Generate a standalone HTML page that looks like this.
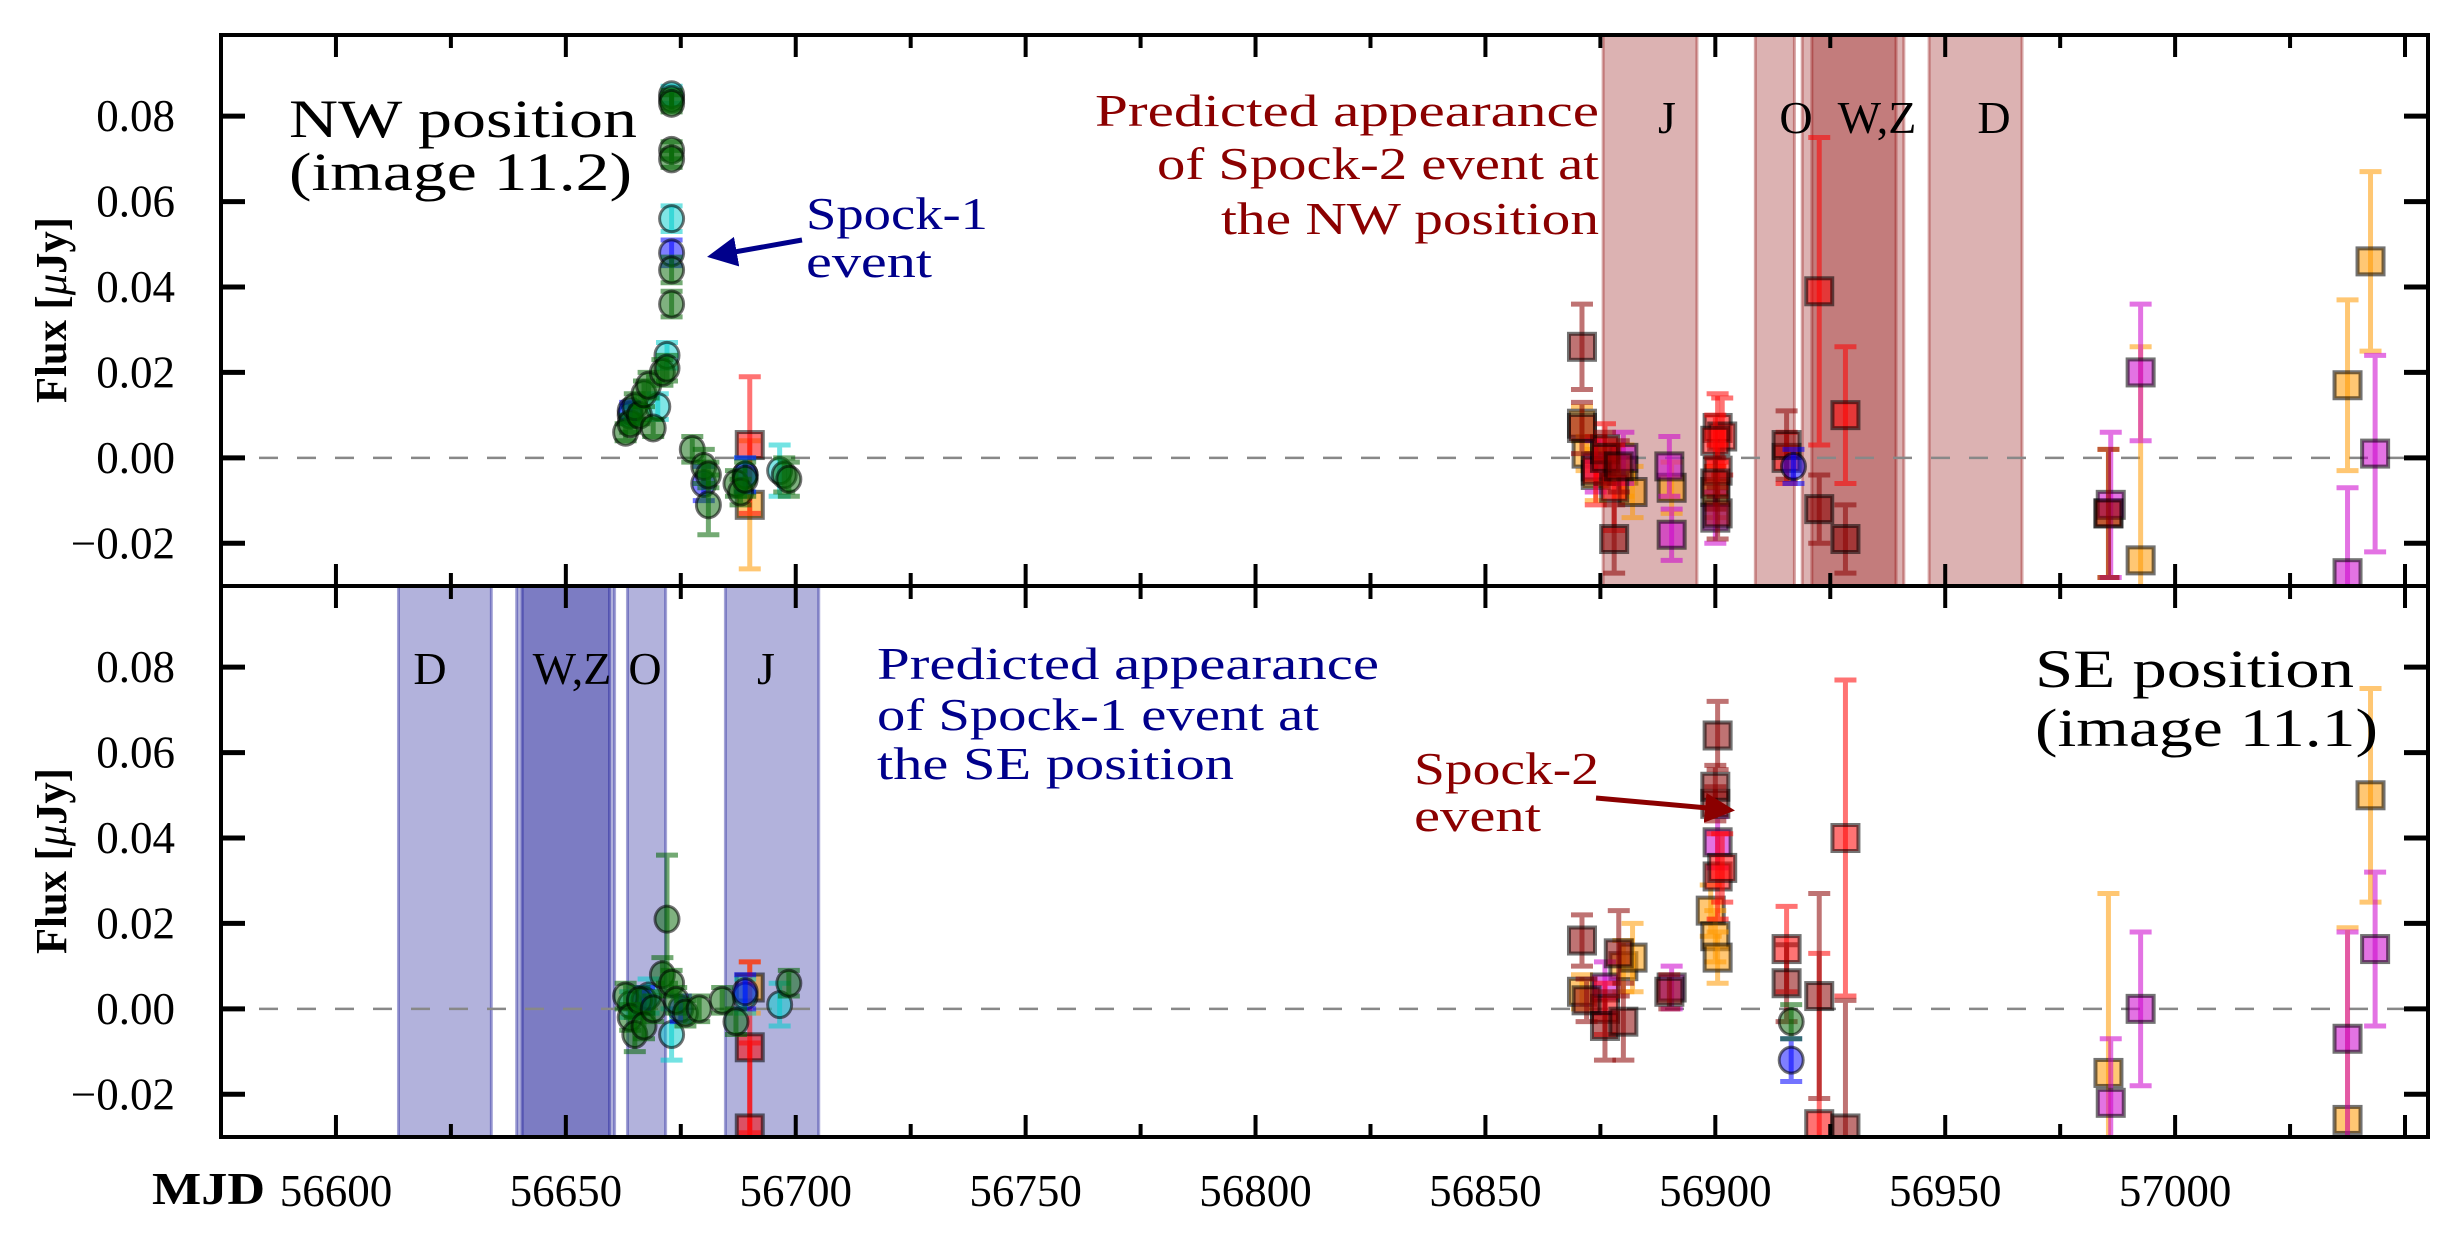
<!DOCTYPE html>
<html><head><meta charset="utf-8">
<style>
html,body{margin:0;padding:0;background:#fff;}
svg{display:block;font-family:"Liberation Serif",serif;}
</style></head>
<body>
<svg id="chart" width="2452" height="1252" viewBox="0 0 2452 1252" xmlns="http://www.w3.org/2000/svg">
<defs>
<clipPath id="clipTop"><rect x="221" y="35" width="2207" height="551"/></clipPath>
<clipPath id="clipBot"><rect x="221" y="586" width="2207" height="551"/></clipPath>
<marker id="arrBlue" markerWidth="6" markerHeight="6" refX="5" refY="3" orient="auto"><path d="M0,0 L6,3 L0,6 z" fill="#00008b"/></marker>
<marker id="arrRed" markerWidth="6" markerHeight="6" refX="5" refY="3" orient="auto"><path d="M0,0 L6,3 L0,6 z" fill="#8b0000"/></marker>
</defs>
<g id="topBands" clip-path="url(#clipTop)"></g>
<g id="botBands" clip-path="url(#clipBot)"></g>
<g id="zeroLines"></g>
<g id="topData" clip-path="url(#clipTop)"></g>
<g id="botData" clip-path="url(#clipBot)"></g>
<g id="axes"></g>
<g id="labels">
<text x="289" y="137" font-size="54" textLength="348" lengthAdjust="spacingAndGlyphs" fill="#000">NW position</text>
<text x="289" y="190" font-size="54" textLength="343" lengthAdjust="spacingAndGlyphs" fill="#000">(image 11.2)</text>
<text x="806" y="229" font-size="46" textLength="182" lengthAdjust="spacingAndGlyphs" fill="#00008b">Spock-1</text>
<text x="806" y="277" font-size="46" textLength="126" lengthAdjust="spacingAndGlyphs" fill="#00008b">event</text>
<line x1="802" y1="240" x2="712" y2="256" stroke="#00008b" stroke-width="5" marker-end="url(#arrBlue)"/>
<g fill="#8b0000" font-size="46">
<text x="1095" y="126" textLength="504" lengthAdjust="spacingAndGlyphs">Predicted appearance</text>
<text x="1157" y="179" textLength="442" lengthAdjust="spacingAndGlyphs">of Spock-2 event at</text>
<text x="1221" y="234" textLength="378" lengthAdjust="spacingAndGlyphs">the NW position</text>
</g>
<g fill="#000" font-size="46" text-anchor="middle">
<text x="1667" y="133">J</text><text x="1796" y="133">O</text><text x="1877" y="133">W,Z</text><text x="1994" y="133">D</text>
</g>
<g fill="#000" font-size="46" text-anchor="middle">
<text x="430" y="684">D</text><text x="572" y="684">W,Z</text><text x="645" y="684">O</text><text x="766" y="684">J</text>
</g>
<g fill="#00008b" font-size="46">
<text x="877" y="679" textLength="502" lengthAdjust="spacingAndGlyphs">Predicted appearance</text>
<text x="877" y="730" textLength="442" lengthAdjust="spacingAndGlyphs">of Spock-1 event at</text>
<text x="877" y="779" textLength="357" lengthAdjust="spacingAndGlyphs">the SE position</text>
</g>
<text x="2035" y="687" font-size="54" textLength="319" lengthAdjust="spacingAndGlyphs" fill="#000">SE position</text>
<text x="2035" y="746" font-size="54" textLength="343" lengthAdjust="spacingAndGlyphs" fill="#000">(image 11.1)</text>
<text x="1414" y="784" font-size="46" textLength="185" lengthAdjust="spacingAndGlyphs" fill="#8b0000">Spock-2</text>
<text x="1414" y="831" font-size="46" textLength="127" lengthAdjust="spacingAndGlyphs" fill="#8b0000">event</text>
<line x1="1596" y1="798" x2="1730" y2="810" stroke="#8b0000" stroke-width="5" marker-end="url(#arrRed)"/>
<text transform="translate(66,310) rotate(-90)" font-size="44" font-weight="bold" text-anchor="middle" textLength="186" lengthAdjust="spacingAndGlyphs">Flux [<tspan font-style="italic" font-weight="normal">μ</tspan>Jy]</text>
<text transform="translate(66,861) rotate(-90)" font-size="44" font-weight="bold" text-anchor="middle" textLength="186" lengthAdjust="spacingAndGlyphs">Flux [<tspan font-style="italic" font-weight="normal">μ</tspan>Jy]</text>
<text x="152" y="1204" font-size="46" font-weight="bold" textLength="113" lengthAdjust="spacingAndGlyphs">MJD</text>
</g>
</svg>
<script>
// ---- data ----
const xTickValues = [56600,56650,56700,56750,56800,56850,56900,56950,57000];
const xTickLabels = ["56600","56650","56700","56750","56800","56850","56900","56950","57000"];
const yTickValues = [-0.02,0,0.02,0.04,0.06,0.08];
const yTickLabels = ["\u22120.02","0.00","0.02","0.04","0.06","0.08"];

const topBandNames = ["J","O","W","Z","D"];
const topBandStart = [56875.6,56908.7,56918.9,56921,56946.5];
const topBandEnd   = [56896,56917.2,56941,56939.3,56966.7];
const botBandNames = ["D","W","Z","O","J"];
const botBandStart = [56613.6,56639.3,56640.5,56663.4,56684.7];
const botBandEnd   = [56633.8,56660.6,56659.5,56671.7,56705];

// top panel [mjd, flux, err]
const topGreen = [[56663,0.006,0.002],[56664,0.008,0.002],[56665,0.012,0.003],[56666,0.010,0.002],[56667,0.015,0.003],[56668,0.017,0.003],[56669,0.007,0.002],[56671,0.020,0.003],[56672,0.021,0.003],[56673,0.084,0.002],[56673,0.083,0.002],[56673,0.072,0.002],[56673,0.070,0.002],[56673,0.044,0.003],[56673,0.036,0.003],[56677.5,0.002,0.003],[56680,-0.002,0.004],[56681,-0.011,0.007],[56681,-0.004,0.003],[56687,-0.006,0.003],[56688,-0.008,0.003],[56689,-0.005,0.004],[56697.5,-0.004,0.004],[56698.5,-0.005,0.004]];
const topCyan = [[56664,0.010,0.002],[56670,0.012,0.003],[56672,0.024,0.003],[56673,0.056,0.003],[56673,0.085,0.002],[56689,-0.004,0.004],[56696.5,-0.003,0.006]];
const topBlue = [[56664,0.011,0.002],[56673,0.048,0.003],[56680,-0.006,0.004],[56689,-0.004,0.004],[56917,-0.002,0.004]];
const topRed = [[56690,0.003,0.016],[56874,-0.003,0.008],[56876,0.002,0.006],[56878,-0.007,0.01],[56900.5,0.007,0.008],[56901.5,0.005,0.009],[56900,0.004,0.006],[56900.5,-0.003,0.006],[56915.5,0.000,0.006],[56922.6,0.039,0.036],[56928.3,0.010,0.016]];
const topOrange = [[56690,-0.011,0.015],[56871,0.008,0.004],[56872,0.001,0.004],[56874,-0.004,0.006],[56880,-0.003,0.006],[56882,-0.008,0.006],[56890.5,-0.007,0.006],[56900,-0.008,0.006],[56985.5,-0.013,0.015],[56992.5,-0.024,0.05],[57037.5,0.017,0.02],[57042.5,0.046,0.021]];
const topMagenta = [[56874,-0.002,0.006],[56880,0.000,0.006],[56890,-0.002,0.007],[56890.5,-0.018,0.006],[56900,-0.014,0.006],[56986,-0.011,0.017],[56992.5,0.020,0.016],[57037.5,-0.027,0.02],[57043.5,0.001,0.023]];
const topDark = [[56871,0.026,0.01],[56871,0.007,0.006],[56876,0.000,0.006],[56878,-0.019,0.008],[56879,-0.002,0.006],[56900,-0.006,0.006],[56900.5,-0.013,0.006],[56915.5,0.003,0.008],[56922.6,-0.012,0.008],[56928.3,-0.019,0.008],[56985.5,-0.013,0.015]];

// bottom panel
const botGreen = [[56663,0.003,0.003],[56664,-0.002,0.003],[56665,-0.006,0.004],[56666,0.002,0.003],[56667,-0.004,0.003],[56669,0.000,0.003],[56671,0.008,0.004],[56672,0.021,0.015],[56673,0.006,0.003],[56674,0.002,0.003],[56676,-0.001,0.003],[56679,0.000,0.003],[56684,0.002,0.003],[56687,-0.003,0.003],[56698.5,0.006,0.003],[56916.5,-0.003,0.004]];
const botCyan = [[56664,0.001,0.003],[56668,0.003,0.004],[56673,-0.006,0.006],[56689,0.003,0.004],[56696.5,0.001,0.005]];
const botBlue = [[56667,0.002,0.003],[56675,0.000,0.003],[56689,0.004,0.004],[56916.5,-0.012,0.005]];
const botRed = [[56690,-0.009,0.02],[56690,-0.028,0.02],[56876,0.000,0.006],[56900.5,0.031,0.01],[56901.5,0.033,0.008],[56915.5,0.014,0.01],[56922.6,-0.027,0.04],[56928.3,0.040,0.037]];
const botOrange = [[56690,0.005,0.006],[56871,0.004,0.004],[56880,0.010,0.006],[56882,0.012,0.008],[56899,0.023,0.006],[56900,0.017,0.006],[56900.5,0.012,0.006],[56985.5,-0.015,0.042],[57037.5,-0.026,0.045],[57042.5,0.050,0.025]];
const botMagenta = [[56876,0.005,0.006],[56890.5,0.005,0.005],[56900.5,0.039,0.006],[56986,-0.022,0.015],[56992.5,0.000,0.018],[57037.5,-0.007,0.025],[57043.5,0.014,0.018]];
const botDark = [[56871,0.016,0.006],[56872,0.002,0.005],[56876,-0.004,0.008],[56879,0.013,0.01],[56880,-0.003,0.009],[56890,0.004,0.004],[56900,0.048,0.004],[56900,0.052,0.005],[56900.5,0.064,0.008],[56915.5,0.006,0.009],[56922.6,0.003,0.024],[56928.3,-0.028,0.03]];

// ---- scales ----
const L=221,R=2428,T1=35,B1=586,T2=586,B2=1137;
const XMIN=56575,XMAX=57055,YMIN=-0.03,YMAX=0.099;
function xs(m){return L+(m-XMIN)*(R-L)/(XMAX-XMIN);}
function ysTop(f){return T1+(YMAX-f)*(B1-T1)/(YMAX-YMIN);}
function ysBot(f){return T2+(YMAX-f)*(B2-T2)/(YMAX-YMIN);}
const NS="http://www.w3.org/2000/svg";
function mk(tag,attrs,parent){const e=document.createElementNS(NS,tag);for(const k in attrs)e.setAttribute(k,attrs[k]);parent.appendChild(e);return e;}

function bands(g,names,s,e,col,T,B){
  for(let i=0;i<names.length;i++){
    const r=mk('rect',{x:xs(s[i]),y:T,width:xs(e[i])-xs(s[i]),height:B-T,fill:col,'fill-opacity':0.3,stroke:col,'stroke-opacity':0.35,'stroke-width':3},g);
    
    
  }
}
bands(document.getElementById('topBands'),topBandNames,topBandStart,topBandEnd,'#8b0000',T1,B1);
bands(document.getElementById('botBands'),botBandNames,botBandStart,botBandEnd,'#00008b',T2,B2);

const zl=document.getElementById('zeroLines');
[ysTop(0),ysBot(0)].forEach((y,i)=>{
  const l=mk('line',{x1:L,x2:R,y1:y,y2:y,stroke:'#888','stroke-width':2.5,'stroke-dasharray':'19,19'},zl);
  
  
});

function series(g,data,col,shape,ys,name){
  data.forEach(d=>{
    const x=xs(d[0]),y=ys(d[1]),y1=ys(d[1]+d[2]),y2=ys(d[1]-d[2]);
    const eb=mk('path',{d:`M${x},${y1}V${y2}M${x-11},${y1}H${x+11}M${x-11},${y2}H${x+11}`,stroke:col,'stroke-opacity':0.55,'stroke-width':5,fill:'none'},g);
    
    
    let m;
    if(shape==='c'){m=mk('ellipse',{cx:x,cy:y,rx:12,ry:13,fill:col,'fill-opacity':0.5,stroke:'#000','stroke-opacity':0.55,'stroke-width':3},g);}
    else{m=mk('rect',{x:x-13,y:y-13,width:26,height:26,fill:col,'fill-opacity':0.55,stroke:'#000','stroke-opacity':0.55,'stroke-width':4},g);}
    
    
  });
}
const gt=document.getElementById('topData'),gb=document.getElementById('botData');
series(gt,topOrange,'#ff9900','s',ysTop,'nw-orange');
series(gt,topMagenta,'#cc00cc','s',ysTop,'nw-magenta');
series(gt,topRed,'#ff0000','s',ysTop,'nw-red');
series(gt,topDark,'#8b0000','s',ysTop,'nw-darkred');
series(gt,topCyan,'#00cccc','c',ysTop,'nw-cyan');
series(gt,topBlue,'#0000ff','c',ysTop,'nw-blue');
series(gt,topGreen,'#006400','c',ysTop,'nw-green');
series(gb,botOrange,'#ff9900','s',ysBot,'se-orange');
series(gb,botMagenta,'#cc00cc','s',ysBot,'se-magenta');
series(gb,botRed,'#ff0000','s',ysBot,'se-red');
series(gb,botDark,'#8b0000','s',ysBot,'se-darkred');
series(gb,botCyan,'#00cccc','c',ysBot,'se-cyan');
series(gb,botBlue,'#0000ff','c',ysBot,'se-blue');
series(gb,botGreen,'#006400','c',ysBot,'se-green');

// axes
const ax=document.getElementById('axes');
[[T1,B1,ysTop,'top'],[T2,B2,ysBot,'bottom']].forEach(([T,B,ys,nm])=>{
  const fr=mk('rect',{x:L,y:T,width:R-L,height:B-T,fill:'none',stroke:'#000','stroke-width':4},ax);
  
  
  for(let v=56575;v<=57055;v+=25){
    const major=(v%50===0), len=major?22:13, x=xs(v);
    const tk=mk('path',{d:`M${x},${T}v${len}M${x},${B}v${-len}`,stroke:'#000','stroke-width':4},ax);
    
    
  }
  yTickValues.forEach((v,i)=>{
    const y=ys(v);
    const tk=mk('path',{d:`M${L},${y}h24M${R},${y}h-24`,stroke:'#000','stroke-width':5},ax);
    
    
    const t=mk('text',{x:L-46,y:y+15,'font-size':45,'text-anchor':'end'},ax);
    t.textContent=yTickLabels[i];
    
    
  });
});
xTickValues.forEach((v,i)=>{
  const t=mk('text',{x:xs(v),y:1206,'font-size':45,'text-anchor':'middle'},ax);
  t.textContent=xTickLabels[i];
  
  
});
</script>
</body></html>
